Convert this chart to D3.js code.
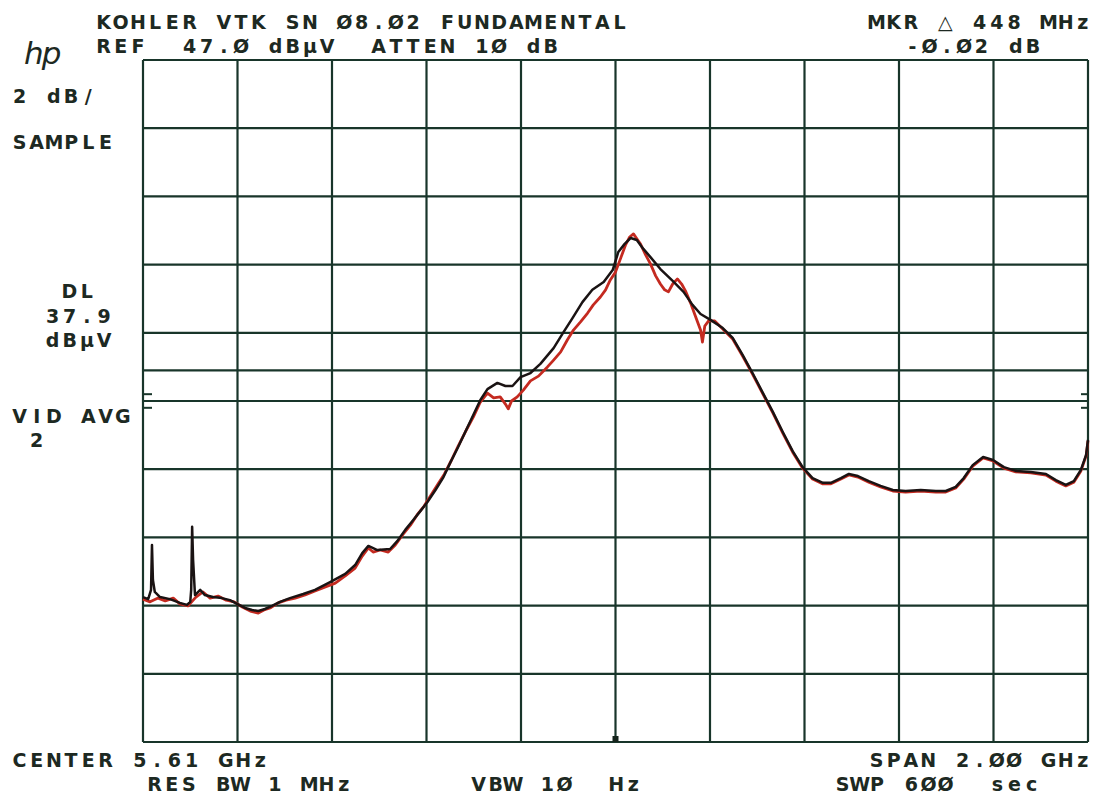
<!DOCTYPE html>
<html>
<head>
<meta charset="utf-8">
<script src="https://cdn.jsdelivr.net/npm/d3@7"></script>
<style>
  html, body { margin: 0; padding: 0; background: #ffffff; }
  svg { display: block; }
  .lbl { font-family: "DejaVu Sans", sans-serif; font-weight: bold; font-size: 19px; fill: #1d2922; white-space: pre; }
</style>
</head>
<body>
<svg id="chart" width="1094" height="797"></svg>
<script>
// ---------------- DATA ----------------
// Analyzer settings
const centerGHz = 5.61;
const spanGHz = 2.00;
const refLevel = 47.0;      // dBuV (top of screen)
const dbPerDiv = 2;
const displayLine = 37.9;   // DL dBuV
const markerGHz = 5.61;
const sideMarks = [37.2, 36.8]; // small "=" marks on both edges (dBuV)

// Gridline positions
const freqTicks = [4.61, 4.81, 5.01, 5.21, 5.41, 5.61, 5.81, 6.01, 6.21, 6.41, 6.61];
const levelTicks = [27, 29, 31, 33, 35, 37, 39, 41, 43, 45, 47];

// Black trace (frequency GHz / level dBuV)
const blackFreq = [4.610,4.621,4.627,4.629,4.631,4.635,4.646,4.667,4.688,4.703,4.710,4.712,4.714,4.716,4.720,4.731,4.741,4.758,4.777,4.794,4.809,4.826,4.841,4.854,4.868,4.883,4.900,4.921,4.949,4.974,5.006,5.038,5.059,5.074,5.087,5.106,5.133,5.148,5.165,5.182,5.197,5.212,5.229,5.246,5.260,5.277,5.294,5.309,5.324,5.339,5.360,5.377,5.392,5.409,5.430,5.451,5.479,5.500,5.519,5.540,5.561,5.585,5.604,5.616,5.629,5.642,5.655,5.669,5.684,5.705,5.731,5.754,5.773,5.790,5.811,5.837,5.858,5.879,5.900,5.921,5.943,5.964,5.985,6.006,6.027,6.049,6.066,6.087,6.104,6.123,6.146,6.171,6.197,6.224,6.256,6.288,6.309,6.330,6.347,6.366,6.388,6.409,6.432,6.457,6.489,6.521,6.542,6.563,6.580,6.595,6.606,6.610];
const blackLevel = [31.25,31.19,31.46,32.78,31.75,31.40,31.25,31.19,31.08,31.02,31.11,31.46,33.31,32.34,31.31,31.46,31.31,31.25,31.22,31.16,31.05,30.93,30.87,30.84,30.90,30.99,31.11,31.22,31.34,31.46,31.69,31.93,32.19,32.54,32.75,32.63,32.66,32.89,33.22,33.51,33.77,34.04,34.39,34.77,35.18,35.65,36.15,36.59,37.03,37.35,37.53,37.44,37.44,37.70,37.82,38.09,38.55,39.02,39.43,39.90,40.26,40.49,40.84,41.37,41.60,41.78,41.72,41.46,41.22,40.87,40.52,40.20,39.82,39.55,39.38,39.14,38.85,38.35,37.82,37.26,36.68,36.09,35.53,35.06,34.74,34.60,34.60,34.74,34.86,34.80,34.65,34.51,34.39,34.36,34.39,34.36,34.36,34.48,34.74,35.12,35.36,35.27,35.06,34.95,34.92,34.86,34.68,34.54,34.65,34.98,35.42,35.86];

// Red trace (frequency GHz / level dBuV)
const redFreq = [4.610,4.625,4.642,4.657,4.674,4.688,4.705,4.722,4.737,4.752,4.769,4.786,4.803,4.820,4.837,4.854,4.866,4.879,4.896,4.913,4.932,4.953,4.974,4.996,5.017,5.038,5.059,5.074,5.087,5.097,5.112,5.129,5.144,5.161,5.176,5.190,5.205,5.218,5.233,5.248,5.263,5.277,5.292,5.309,5.324,5.339,5.352,5.366,5.377,5.383,5.390,5.402,5.415,5.430,5.447,5.466,5.479,5.494,5.508,5.521,5.536,5.551,5.563,5.578,5.589,5.599,5.610,5.621,5.631,5.640,5.648,5.657,5.663,5.674,5.684,5.695,5.705,5.714,5.722,5.731,5.741,5.750,5.758,5.769,5.779,5.790,5.794,5.799,5.807,5.820,5.837,5.858,5.879,5.900,5.921,5.943,5.964,5.985,6.006,6.027,6.049,6.066,6.087,6.104,6.123,6.146,6.171,6.197,6.224,6.256,6.288,6.309,6.330,6.347,6.366,6.388,6.409,6.432,6.457,6.489,6.521,6.542,6.563,6.580,6.595,6.606,6.610];
const redLevel = [31.19,31.11,31.22,31.14,31.22,31.05,30.99,31.25,31.40,31.22,31.28,31.16,31.11,30.96,30.84,30.78,30.87,30.93,31.08,31.16,31.22,31.31,31.43,31.55,31.66,31.87,32.10,32.45,32.69,32.57,32.63,32.57,32.78,33.10,33.36,33.66,33.92,34.21,34.54,34.86,35.27,35.68,36.09,36.53,36.97,37.23,37.09,37.12,36.91,36.77,37.00,37.12,37.32,37.59,37.73,38.00,38.20,38.44,38.79,39.08,39.32,39.58,39.82,40.05,40.26,40.55,40.78,41.19,41.57,41.81,41.90,41.72,41.60,41.28,41.02,40.67,40.43,40.26,40.20,40.43,40.58,40.43,40.23,39.87,39.49,39.08,38.73,39.20,39.35,39.35,39.11,38.82,38.32,37.79,37.23,36.65,36.06,35.50,35.03,34.71,34.57,34.57,34.71,34.83,34.77,34.62,34.48,34.36,34.33,34.36,34.33,34.33,34.45,34.71,35.09,35.33,35.24,35.03,34.92,34.89,34.83,34.65,34.51,34.62,34.95,35.39,35.83];

// Annotation texts
const headerLines = ["KOHLER VTK SN Ø8.Ø2 FUNDAMENTAL", "REF  47.Ø dBµV  ATTEN 1Ø dB"];
const markerLines = ["MKR △ 448 MHz", "-Ø.Ø2 dB"];
const sideLabels = ["2 dB/", "SAMPLE", "DL", "37.9", "dBµV", "VID AVG", "2"];
const footerLines = ["CENTER 5.61 GHz", "RES BW 1 MHz", "VBW 1Ø  Hz", "SPAN 2.ØØ GHz", "SWP 6ØØ  sec"];

// ---------------- DRAWING ----------------
const svg = d3.select("#chart");
const gridColor = "#18352a";
const L = 143, R = 1088, T = 60, B = 742;

const x = d3.scaleLinear()
  .domain([centerGHz - spanGHz / 2, centerGHz + spanGHz / 2])
  .range([L, R]);
const y = d3.scaleLinear()
  .domain([refLevel - 10 * dbPerDiv, refLevel])
  .range([B, T]);

// grid
const g = svg.append("g");
g.selectAll("line.v").data(freqTicks).enter().append("line")
  .attr("x1", d => x(d)).attr("x2", d => x(d))
  .attr("y1", T).attr("y2", B)
  .attr("stroke", gridColor).attr("stroke-width", 2.2);
g.selectAll("line.h").data(levelTicks).enter().append("line")
  .attr("x1", L).attr("x2", R)
  .attr("y1", d => y(d)).attr("y2", d => y(d))
  .attr("stroke", gridColor).attr("stroke-width", 2.2);
// display line
g.append("line")
  .attr("x1", L).attr("x2", R)
  .attr("y1", y(displayLine)).attr("y2", y(displayLine))
  .attr("stroke", gridColor).attr("stroke-width", 2.2);
// side marks
sideMarks.forEach(v => {
  g.append("line").attr("x1", L).attr("x2", L + 9)
    .attr("y1", y(v)).attr("y2", y(v))
    .attr("stroke", gridColor).attr("stroke-width", 2);
  g.append("line").attr("x1", R - 7).attr("x2", R)
    .attr("y1", y(v)).attr("y2", y(v))
    .attr("stroke", gridColor).attr("stroke-width", 2);
});
// marker indicator at bottom
g.append("rect")
  .attr("x", x(markerGHz) - 3).attr("y", B - 6)
  .attr("width", 6).attr("height", 6)
  .attr("fill", "#15241c");

// traces
const line = d3.line().x(d => x(d[0])).y(d => y(d[1]));
const redData = d3.zip(redFreq, redLevel);
const blackData = d3.zip(blackFreq, blackLevel);
svg.append("path").datum(redData)
  .attr("d", line).attr("fill", "none")
  .attr("stroke", "#c42a20").attr("stroke-width", 2.8)
  .attr("stroke-linejoin", "round");
svg.append("path").datum(blackData)
  .attr("d", line).attr("fill", "none")
  .attr("stroke", "#1a1313").attr("stroke-width", 2.5)
  .attr("stroke-linejoin", "round");

// monospaced plotter-style text (one cell per character, spaces kept)
const cell = 17.2;
function mono(str, x0, baseline) {
  const chars = Array.from(str);
  svg.append("text").attr("class", "lbl")
    .attr("xml:space", "preserve")
    .attr("x", chars.map((c, i) => (x0 + 6.5 + i * cell).toFixed(1)).join(" "))
    .attr("y", baseline)
    .attr("text-anchor", "middle")
    .text(str);
}
mono(headerLines[0], 97, 29);
mono(headerLines[1], 97, 53);
mono(markerLines[0], 870, 29);
mono(markerLines[1], 906, 53);
mono(sideLabels[0], 13, 103);
mono(sideLabels[1], 13, 149);
mono(sideLabels[2], 63, 298);
mono(sideLabels[3], 46, 323);
mono(sideLabels[4], 46, 347);
mono(sideLabels[5], 13, 423);
mono(sideLabels[6], 30, 447);
mono(footerLines[0], 13, 767);
mono(footerLines[1], 148, 791);
mono(footerLines[2], 472, 791);
mono(footerLines[3], 870, 767);
mono(footerLines[4], 836, 791);

// hp logo
svg.append("text")
  .attr("x", 24).attr("y", 64)
  .attr("font-family", "DejaVu Sans, sans-serif")
  .attr("font-style", "italic")
  .attr("font-size", 31)
  .attr("fill", "#1d2922")
  .attr("letter-spacing", -2)
  .text("hp");
</script>
</body>
</html>
